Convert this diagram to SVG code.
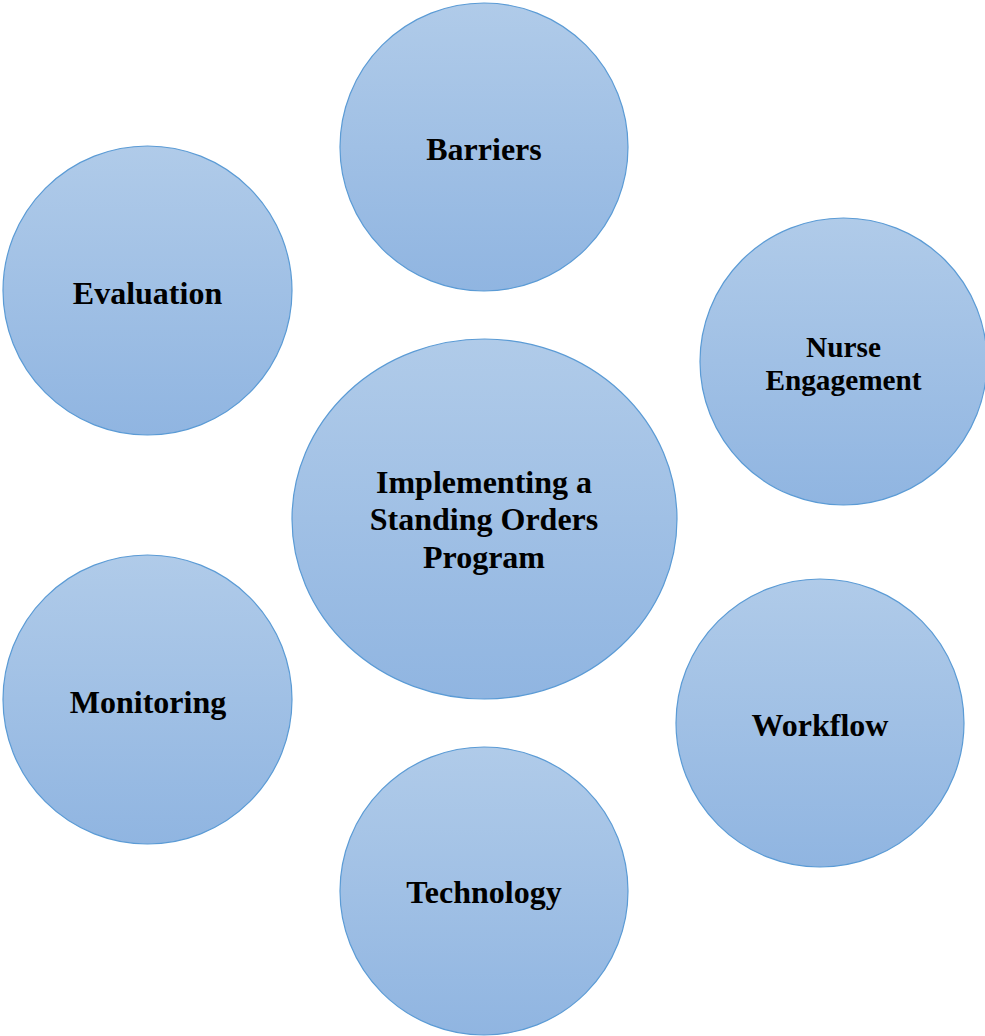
<svg xmlns="http://www.w3.org/2000/svg" width="985" height="1036" viewBox="0 0 985 1036">
  <defs>
    <linearGradient id="bubbleFill" x1="0" y1="0" x2="0" y2="1">
      <stop offset="0" stop-color="#b0cbe9"/>
      <stop offset="1" stop-color="#90b5e1"/>
    </linearGradient>
    <style>
      .bubble { fill: url(#bubbleFill); stroke: #5b9bd5; stroke-width: 1.2; }
      .label { font-family: "Liberation Serif", "Times New Roman", serif; font-weight: bold; font-size: 32px; fill: #000; text-anchor: middle; }
      .small { font-size: 29.3px; }
    </style>
  </defs>
  <rect width="985" height="1036" fill="#ffffff"/>

  <!-- no connectors in this diagram -->
  <g id="connectors"></g>

  <g id="barriers">
    <circle class="bubble" cx="484" cy="147" r="144"/>
    <text class="label" x="484" y="160">Barriers</text>
  </g>

  <g id="evaluation">
    <circle class="bubble" cx="147.5" cy="290.5" r="144.5"/>
    <text class="label" x="147.5" y="304">Evaluation</text>
  </g>

  <g id="nurse-engagement">
    <circle class="bubble" cx="843.5" cy="361.5" r="143.5"/>
    <text class="label small" x="843.5" y="356.5">Nurse</text>
    <text class="label small" x="843.5" y="390">Engagement</text>
  </g>

  <g id="center">
    <ellipse class="bubble" cx="484.5" cy="519" rx="192.5" ry="180"/>
    <text class="label" x="484" y="493">Implementing a</text>
    <text class="label" x="484" y="530">Standing Orders</text>
    <text class="label" x="484" y="568">Program</text>
  </g>

  <g id="monitoring">
    <circle class="bubble" cx="147.5" cy="699.5" r="144.5"/>
    <text class="label" x="148" y="712.5">Monitoring</text>
  </g>

  <g id="workflow">
    <circle class="bubble" cx="820" cy="723" r="144"/>
    <text class="label" x="820" y="736">Workflow</text>
  </g>

  <g id="technology">
    <circle class="bubble" cx="484" cy="891" r="144"/>
    <text class="label" x="484" y="903">Technology</text>
  </g>
</svg>
